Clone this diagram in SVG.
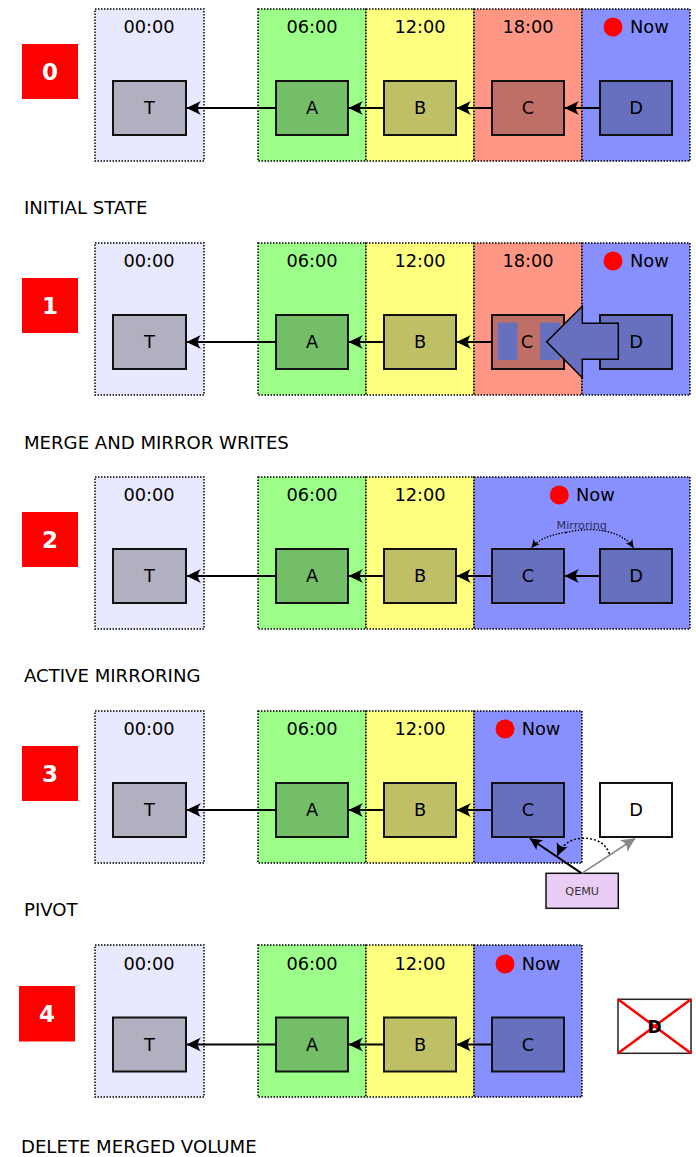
<svg xmlns="http://www.w3.org/2000/svg" width="696" height="1157" viewBox="0 0 696 1157">
  <style>
    text { font-family: "DejaVu Sans", "Liberation Sans", sans-serif; fill: #000; }
    .panel { stroke: #000; stroke-width: 1.5; stroke-dasharray: 1.5 1.5; }
    .p0 { fill: #e8e8ff; }
    .p6 { fill: #9cff8a; }
    .p12 { fill: #ffff80; }
    .p18 { fill: #ff9786; }
    .pnow { fill: #8890ff; }
    .box { stroke: #111; stroke-width: 2; }
    .bT { fill: #b0b0c0; }
    .bA { fill: #73be66; }
    .bB { fill: #bfbf66; }
    .bC { fill: #bf7066; }
    .bD { fill: #6670bf; }
    .lbl { font-size: 17.8px; text-anchor: middle; }
    .now { font-size: 17.8px; }
    .cap { font-size: 18.1px; }
    .step rect { fill: #ff0000; }
    .step text { font-size: 23px; font-weight: bold; fill: #fff; text-anchor: middle; }
    .link { stroke: #000; stroke-width: 2; fill: none; marker-end: url(#ah); }
    .dot { fill: #ff0000; }
  </style>
  <defs>
    <marker id="ah" viewBox="-15 -8 16 16" refX="0" refY="0" markerWidth="16" markerHeight="16" markerUnits="userSpaceOnUse" orient="auto">
      <path d="M0.5,0 L-14,-7 C-10,-2.5 -10,2.5 -14,7 Z" fill="#000"/>
    </marker>
    <marker id="ahGray" viewBox="-15 -8 16 16" refX="0" refY="0" markerWidth="16" markerHeight="16" markerUnits="userSpaceOnUse" orient="auto">
      <path d="M0.5,0 L-14,-7 C-10,-2.5 -10,2.5 -14,7 Z" fill="#888"/>
    </marker>
    <marker id="ahSmall" viewBox="-9 -5 10 10" refX="0" refY="0" markerWidth="10" markerHeight="10" markerUnits="userSpaceOnUse" orient="auto">
      <path d="M0.5,0 L-8,-4 C-5.5,-1.5 -5.5,1.5 -8,4 Z" fill="#000"/>
    </marker>
    <marker id="ahDart" viewBox="-13 -7 14 14" refX="0" refY="0" markerWidth="14" markerHeight="14" markerUnits="userSpaceOnUse" orient="auto">
      <path d="M0.5,0 L-12,-6 C-9,-2 -9,2 -12,6 Z" fill="#000"/>
    </marker>
  </defs>

  <!-- ===== Step 0: initial state ===== -->
  <g id="row0">
    <g id="r0-step" class="step"><rect x="22" y="44" width="56" height="55"/><text x="50" y="80">0</text></g>
    <g id="r0-p00"><rect class="panel p0" x="95" y="9" width="109" height="152"/><text class="lbl" x="149" y="33">00:00</text></g>
    <g id="r0-p06"><rect class="panel p6" x="258" y="9" width="108" height="152"/><text class="lbl" x="312" y="33">06:00</text></g>
    <g id="r0-p12"><rect class="panel p12" x="366" y="9" width="108" height="152"/><text class="lbl" x="420" y="33">12:00</text></g>
    <g id="r0-p18"><rect class="panel p18" x="474" y="9" width="108" height="152"/><text class="lbl" x="528" y="33">18:00</text></g>
    <g id="r0-pnow"><rect class="panel pnow" x="582" y="9" width="108" height="152"/><circle class="dot" cx="613" cy="27" r="9.5"/><text class="now" x="630" y="33">Now</text></g>
    <g id="r0-T"><rect class="box bT" x="113" y="81" width="73" height="54"/><text class="lbl" x="149.5" y="114">T</text></g>
    <g id="r0-A"><rect class="box bA" x="276" y="81" width="72" height="54"/><text class="lbl" x="312" y="114">A</text></g>
    <g id="r0-B"><rect class="box bB" x="384" y="81" width="72" height="54"/><text class="lbl" x="420" y="114">B</text></g>
    <g id="r0-C"><rect class="box bC" x="492" y="81" width="72" height="54"/><text class="lbl" x="528" y="114">C</text></g>
    <g id="r0-D"><rect class="box bD" x="600" y="81" width="72" height="54"/><text class="lbl" x="636" y="114">D</text></g>
    <g id="r0-links">
      <line class="link" x1="276" y1="108" x2="187" y2="108"/>
      <line class="link" x1="384" y1="108" x2="349" y2="108"/>
      <line class="link" x1="492" y1="108" x2="457" y2="108"/>
      <line class="link" x1="600" y1="108" x2="565" y2="108"/>
    </g>
    <text class="cap" x="24" y="214">INITIAL STATE</text>
  </g>

  <!-- ===== Step 1: merge and mirror writes ===== -->
  <g id="row1" transform="translate(0,234)">
    <g id="r1-step" class="step"><rect x="22" y="44" width="56" height="55"/><text x="50" y="80">1</text></g>
    <g id="r1-p00"><rect class="panel p0" x="95" y="9" width="109" height="152"/><text class="lbl" x="149" y="33">00:00</text></g>
    <g id="r1-p06"><rect class="panel p6" x="258" y="9" width="108" height="152"/><text class="lbl" x="312" y="33">06:00</text></g>
    <g id="r1-p12"><rect class="panel p12" x="366" y="9" width="108" height="152"/><text class="lbl" x="420" y="33">12:00</text></g>
    <g id="r1-p18"><rect class="panel p18" x="474" y="9" width="108" height="152"/><text class="lbl" x="528" y="33">18:00</text></g>
    <g id="r1-pnow"><rect class="panel pnow" x="582" y="9" width="108" height="152"/><circle class="dot" cx="613" cy="27" r="9.5"/><text class="now" x="630" y="33">Now</text></g>
    <g id="r1-T"><rect class="box bT" x="113" y="81" width="73" height="54"/><text class="lbl" x="149.5" y="114">T</text></g>
    <g id="r1-A"><rect class="box bA" x="276" y="81" width="72" height="54"/><text class="lbl" x="312" y="114">A</text></g>
    <g id="r1-B"><rect class="box bB" x="384" y="81" width="72" height="54"/><text class="lbl" x="420" y="114">B</text></g>
    <g id="r1-C">
      <rect class="box bC" x="492" y="81" width="72" height="54"/>
      <rect class="bD" x="497.5" y="88.5" width="20" height="37.5"/>
      <rect class="bD" x="540" y="88.5" width="20" height="37.5"/>
      <text class="lbl" x="527" y="114">C</text>
    </g>
    <g id="r1-D"><rect class="box bD" x="600" y="81" width="72" height="54"/><text class="lbl" x="636" y="114">D</text></g>
    <g id="r1-links">
      <line class="link" x1="276" y1="108" x2="187" y2="108"/>
      <line class="link" x1="384" y1="108" x2="349" y2="108"/>
      <line class="link" x1="492" y1="108" x2="457" y2="108"/>
      <!-- block arrow: D merged into C -->
      <path d="M546.7,107.7 L582.3,72 L582.3,89.3 L618.3,89.3 L618.3,125.3 L582.3,125.3 L582.3,143.7 Z" fill="#6670bf" stroke="#000" stroke-width="1.5" stroke-linejoin="miter"/>
    </g>
    <text class="cap" x="24" y="215">MERGE AND MIRROR WRITES</text>
  </g>

  <!-- ===== Step 2: active mirroring ===== -->
  <g id="row2" transform="translate(0,468)">
    <g id="r2-step" class="step"><rect x="22" y="44" width="56" height="55"/><text x="50" y="80">2</text></g>
    <g id="r2-p00"><rect class="panel p0" x="95" y="9" width="109" height="152"/><text class="lbl" x="149" y="33">00:00</text></g>
    <g id="r2-p06"><rect class="panel p6" x="258" y="9" width="108" height="152"/><text class="lbl" x="312" y="33">06:00</text></g>
    <g id="r2-p12"><rect class="panel p12" x="366" y="9" width="108" height="152"/><text class="lbl" x="420" y="33">12:00</text></g>
    <g id="r2-pnow"><rect class="panel pnow" x="474" y="9" width="216" height="152"/><circle class="dot" cx="559.3" cy="27" r="9.5"/><text class="now" x="576" y="33">Now</text></g>
    <g id="r2-T"><rect class="box bT" x="113" y="81" width="73" height="54"/><text class="lbl" x="149.5" y="114">T</text></g>
    <g id="r2-A"><rect class="box bA" x="276" y="81" width="72" height="54"/><text class="lbl" x="312" y="114">A</text></g>
    <g id="r2-B"><rect class="box bB" x="384" y="81" width="72" height="54"/><text class="lbl" x="420" y="114">B</text></g>
    <g id="r2-C"><rect class="box bD" x="492" y="81" width="72" height="54"/><text class="lbl" x="528" y="114">C</text></g>
    <g id="r2-D"><rect class="box bD" x="600" y="81" width="72" height="54"/><text class="lbl" x="636" y="114">D</text></g>
    <g id="r2-links">
      <line class="link" x1="276" y1="108" x2="187" y2="108"/>
      <line class="link" x1="384" y1="108" x2="349" y2="108"/>
      <line class="link" x1="492" y1="108" x2="457" y2="108"/>
      <line class="link" x1="600" y1="108" x2="565" y2="108"/>
      <path d="M566,64.5 C550,66.5 538,72 531.7,79.5" fill="none" stroke="#000" stroke-width="1.3" stroke-dasharray="1.5 1.5" marker-end="url(#ahSmall)"/>
      <path d="M566,64.5 C582,60.5 600,60.5 614,65.5 C622,68.5 629,73 633.3,79.5" fill="none" stroke="#000" stroke-width="1.3" stroke-dasharray="1.5 1.5" marker-end="url(#ahSmall)"/>
      <text x="581.7" y="60.5" font-size="11.2" text-anchor="middle" style="fill:#2a2f5a">Mirroring</text>
    </g>
    <text class="cap" x="24" y="214">ACTIVE MIRRORING</text>
  </g>

  <!-- ===== Step 3: pivot ===== -->
  <g id="row3" transform="translate(0,702)">
    <g id="r3-step" class="step"><rect x="22" y="44" width="56" height="55"/><text x="50" y="80">3</text></g>
    <g id="r3-p00"><rect class="panel p0" x="95" y="9" width="109" height="152"/><text class="lbl" x="149" y="33">00:00</text></g>
    <g id="r3-p06"><rect class="panel p6" x="258" y="9" width="108" height="152"/><text class="lbl" x="312" y="33">06:00</text></g>
    <g id="r3-p12"><rect class="panel p12" x="366" y="9" width="108" height="152"/><text class="lbl" x="420" y="33">12:00</text></g>
    <g id="r3-pnow"><rect class="panel pnow" x="474" y="9" width="108" height="152"/><circle class="dot" cx="505" cy="27" r="9.5"/><text class="now" x="521.7" y="33">Now</text></g>
    <g id="r3-T"><rect class="box bT" x="113" y="81" width="73" height="54"/><text class="lbl" x="149.5" y="114">T</text></g>
    <g id="r3-A"><rect class="box bA" x="276" y="81" width="72" height="54"/><text class="lbl" x="312" y="114">A</text></g>
    <g id="r3-B"><rect class="box bB" x="384" y="81" width="72" height="54"/><text class="lbl" x="420" y="114">B</text></g>
    <g id="r3-C"><rect class="box bD" x="492" y="81" width="72" height="54"/><text class="lbl" x="528" y="114">C</text></g>
    <g id="r3-D"><rect class="box" fill="#fff" x="600" y="81" width="72" height="54"/><text class="lbl" x="636" y="114">D</text></g>
    <g id="r3-QEMU"><rect x="546" y="171.3" width="72.3" height="35" fill="#e9cdf5" stroke="#111" stroke-width="1.5"/><text x="582.2" y="193" font-size="11.2" text-anchor="middle" style="fill:#333">QEMU</text></g>
    <g id="r3-links">
      <line class="link" x1="276" y1="108" x2="187" y2="108"/>
      <line class="link" x1="384" y1="108" x2="349" y2="108"/>
      <line class="link" x1="492" y1="108" x2="457" y2="108"/>
      <line x1="581.7" y1="171.3" x2="530" y2="136.5" stroke="#000" stroke-width="2" marker-end="url(#ahDart)"/>
      <line x1="581.7" y1="171.3" x2="635" y2="136.5" stroke="#888" stroke-width="1.5" marker-end="url(#ahGray)"/>
      <path d="M609.5,152 C605,140 595,136 582,136.3 C570,136.8 562,143 557.5,153.5" fill="none" stroke="#000" stroke-width="1.5" stroke-dasharray="2 2" marker-end="url(#ahDart)"/>
    </g>
    <text class="cap" x="24" y="214">PIVOT</text>
  </g>

  <!-- ===== Step 4: delete merged volume ===== -->
  <g id="row4" transform="translate(0,936)">
    <g id="r4-step" class="step"><rect x="19" y="50" width="56" height="55.5"/><text x="47" y="86">4</text></g>
    <g id="r4-p00"><rect class="panel p0" x="95" y="9" width="109" height="152"/><text class="lbl" x="149" y="34">00:00</text></g>
    <g id="r4-p06"><rect class="panel p6" x="258" y="9" width="108" height="152"/><text class="lbl" x="312" y="34">06:00</text></g>
    <g id="r4-p12"><rect class="panel p12" x="366" y="9" width="108" height="152"/><text class="lbl" x="420" y="34">12:00</text></g>
    <g id="r4-pnow"><rect class="panel pnow" x="474" y="9" width="108" height="152"/><circle class="dot" cx="505" cy="28" r="9.5"/><text class="now" x="521.7" y="34">Now</text></g>
    <g id="r4-T"><rect class="box bT" x="113" y="81.5" width="73" height="54"/><text class="lbl" x="149.5" y="114.5">T</text></g>
    <g id="r4-A"><rect class="box bA" x="276" y="81.5" width="72" height="54"/><text class="lbl" x="312" y="114.5">A</text></g>
    <g id="r4-B"><rect class="box bB" x="384" y="81.5" width="72" height="54"/><text class="lbl" x="420" y="114.5">B</text></g>
    <g id="r4-C"><rect class="box bD" x="492" y="81.5" width="72" height="54"/><text class="lbl" x="528" y="114.5">C</text></g>
    <g id="r4-D">
      <rect x="618" y="63.3" width="73" height="54" fill="#fff" stroke="#222" stroke-width="1.5"/>
      <line x1="618" y1="63.3" x2="691" y2="117.3" stroke="#ff0000" stroke-width="2.5"/>
      <line x1="691" y1="63.3" x2="618" y2="117.3" stroke="#ff0000" stroke-width="2.5"/>
      <text x="654.5" y="96.5" font-size="17" font-weight="bold" text-anchor="middle">D</text>
    </g>
    <g id="r4-links">
      <line class="link" x1="276" y1="108.5" x2="187" y2="108.5"/>
      <line class="link" x1="384" y1="108.5" x2="349" y2="108.5"/>
      <line class="link" x1="492" y1="108.5" x2="457" y2="108.5"/>
    </g>
    <text class="cap" x="21" y="216.5">DELETE MERGED VOLUME</text>
  </g>
</svg>
